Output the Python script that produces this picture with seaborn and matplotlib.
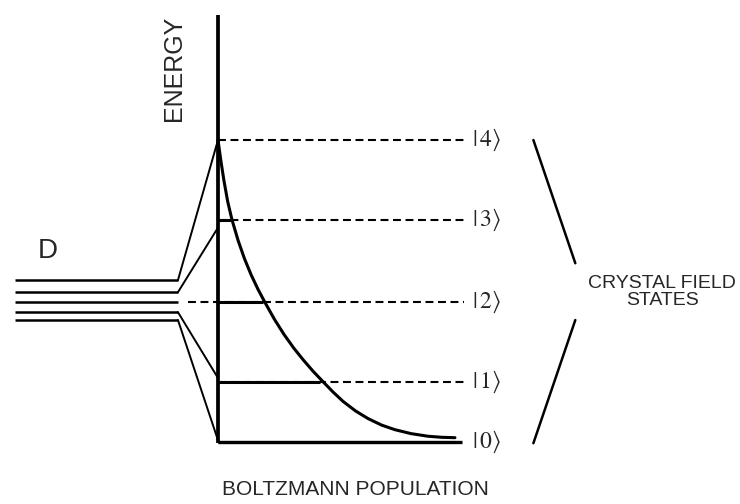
import matplotlib
matplotlib.use("Agg")
import matplotlib.pyplot as plt
import seaborn as sns
import pandas as pd

# energy levels of the crystal field states (arbitrary units) and their populations
state_labels = ["0", "1", "2", "3", "4"]
state_energy = [0.0, 1.0, 2.32, 3.68, 5.0]
state_population = [1.0, 0.43, 0.19, 0.059, 0.0]

# Boltzmann population curve
curve_population = [0.0, 0.012, 0.025, 0.041, 0.059, 0.085, 0.112, 0.140, 0.168,
                    0.197, 0.238, 0.279, 0.320, 0.361, 0.402, 0.443, 0.485,
                    0.527, 0.580, 0.633, 0.690, 0.747, 0.815, 0.886, 0.945, 1.0]
curve_energy = [5.0, 4.66, 4.33, 3.98, 3.68, 3.335, 3.033, 2.767, 2.535,
                2.32, 2.033, 1.779, 1.554, 1.354, 1.169, 1.0, 0.83,
                0.675, 0.516, 0.389, 0.281, 0.204, 0.139, 0.096, 0.078, 0.072]

# the split "D" multiplet on the left
d_energy = [2.68, 2.48, 2.32, 2.15, 2.02]
d_target = [5.0, 3.55, None, 1.06, 0.03]


sns.set_style("white")
plt.rcParams["mathtext.fontset"] = "stix"

fig = plt.figure(figsize=(7.4, 5.04), dpi=100)
ax = fig.add_axes([0, 0, 1, 1])
ax.set_xlim(-0.920, 2.203)
ax.set_ylim(-1.026, 7.318)
ax.axis("off")

# energy axis and population baseline
ax.plot([0, 0], [-0.02, 7.07], color="black", lw=2.7, solid_capstyle="butt")
ax.plot([0, 1.03], [0, 0], color="black", lw=2.4, solid_capstyle="butt")

# population curve
curve = pd.DataFrame({"population": curve_population, "energy": curve_energy})
sns.lineplot(data=curve, x="population", y="energy", sort=False,
             color="black", lw=2.2, ax=ax, legend=False)

# levels: solid up to the curve, dashed beyond
for lab, e, p in zip(state_labels, state_energy, state_population):
    if p > 0:
        ax.plot([0, p], [e, e], color="black", lw=2.2, solid_capstyle="butt")
    if lab != "0":
        start = -0.127 if lab == "2" else 0.0
        ax.plot([start, 1.04], [e, e], color="black", lw=1.5,
                linestyle=(0, (3.8, 2.2)))
    ax.text(1.072, e, r"$|\,%s\rangle$" % lab, fontsize=17,
            ha="left", va="center")

# D multiplet and its fan into the states
for e, t in zip(d_energy, d_target):
    ax.plot([-0.857, -0.169], [e, e], color="black", lw=1.8, solid_capstyle="butt")
    if t is not None:
        ax.plot([-0.169, 0.0], [e, t], color="black", lw=1.4)

ax.text(-0.72, 3.16, "D", fontsize=20, family="Liberation Sans",
        ha="center", va="center")

# bracket for the crystal field states
ax.plot([1.331, 1.508], [5.0, 2.96], color="black", lw=1.8)
ax.plot([1.508, 1.331], [2.02, -0.02], color="black", lw=1.8)
ax.text(1.874, 2.48, "CRYSTAL FIELD\nSTATES", fontsize=14, family="Liberation Sans",
        ha="center", va="center", linespacing=1.0)

ax.text(-0.185, 6.19, "ENERGY", fontsize=18, family="Liberation Sans",
        rotation=90, ha="center", va="center")
ax.text(0.578, -0.79, "BOLTZMANN POPULATION", fontsize=15, family="Liberation Sans",
        ha="center", va="center")

fig.savefig("out.png", dpi=100)
